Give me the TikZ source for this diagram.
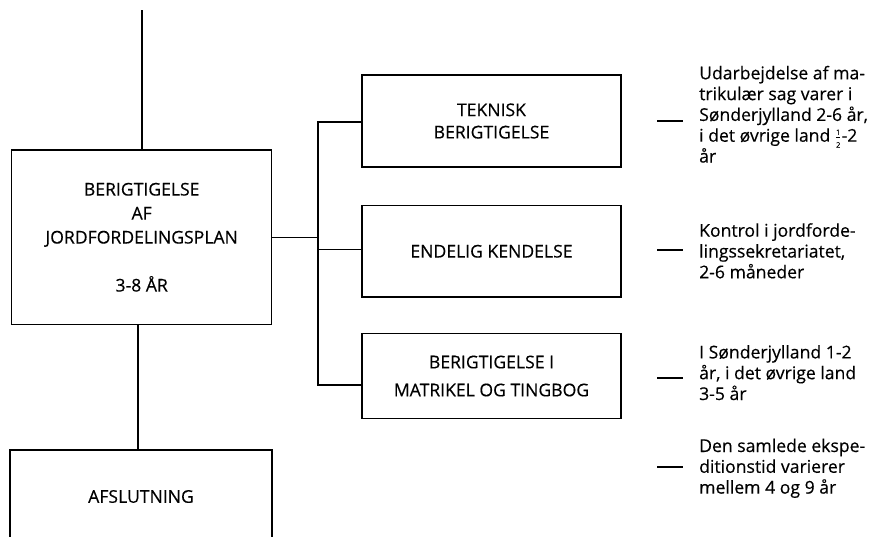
\documentclass[tikz,border=0pt]{standalone}
\usepackage{amsmath}
\usepackage{fontspec}
\setmainfont{Open Sans}[FakeBold=0.35]

% small stacked one-half used in the first note
\newcommand\halfstack{\smash{\ensuremath{\frac{\mbox{\fontsize{7.5}{7.5}\selectfont 1}}{\mbox{\fontsize{7.5}{7.5}\selectfont 2}}}}}

\tikzset{
  stage/.style={draw, line width=1.5pt, rectangle, inner sep=0pt, align=center,
                font=\fontsize{17.6}{23}\selectfont},
  note/.style={anchor=base west, align=left, inner sep=0pt,
               font=\fontsize{17.6}{20.8}\selectfont},
  link/.style={line width=1.5pt},
}

\begin{document}
\begin{tikzpicture}[x=1pt,y=-1pt]
\useasboundingbox (0,0) rectangle (892,536);
\clip (0,0) rectangle (892,536);

% main stages
\node[stage, minimum width=260, minimum height=174.5,
      font=\fontsize{17.6}{24}\selectfont] (plan) at (141.7,237.25)
  {BERIGTIGELSE\\AF\\JORDFORDELINGSPLAN\\[24pt]3-8 ÅR};
\node[stage, minimum width=262, minimum height=93] (afs) at (141,496.5)
  {AFSLUTNING};

% sub-stages
\node[stage, minimum width=259, minimum height=92,
      font=\fontsize{17.6}{22.3}\selectfont] (tek) at (491.5,121)
  {TEKNISK\\BERIGTIGELSE};
\node[stage, minimum width=259, minimum height=91.5] (kend) at (491.5,251.25)
  {ENDELIG KENDELSE};
\node[stage, minimum width=259, minimum height=85,
      font=\fontsize{17.6}{28}\selectfont] (mat) at (491.5,376)
  {BERIGTIGELSE I\\MATRIKEL OG TINGBOG};

% connectors
\coordinate (feed) at (142,10);
\coordinate (busTop) at (318,122);
\coordinate (busMid) at (318,249.5);
\coordinate (busBot) at (318,385);
\coordinate (drop) at (138,0);
\draw[link] (feed) -- (feed |- plan.north);
\draw[link] (plan.east) -- (plan.east -| busTop);
\draw[link] (tek.west |- busTop) -- (busTop) -- (busBot) -- (busBot -| mat.west);
\draw[link] (busMid) -- (busMid -| kend.west);
\draw[link] (drop |- plan.south) -- (drop |- afs.north);

% notes (placed by the baseline of their last line) with their lead dashes
\node[note] (n1) at (699,162.5)
  {Udarbejdelse af ma-\\trikulær sag varer i\\Sønderjylland 2-6 år,\\i det øvrige land \halfstack-2\\år};
\node[note] (n2) at (699,278.3)
  {Kontrol i jordforde-\\lingssekretariatet,\\2-6 måneder};
\node[note] (n3) at (699,400)
  {I Sønderjylland 1-2\\år, i det øvrige land\\3-5 år};
\node[note] (n4) at (699,493.6)
  {Den samlede ekspe-\\ditionstid varierer\\mellem 4 og 9 år};

\coordinate (d1a) at (657,121); \coordinate (d1b) at (683,121);
\coordinate (d2a) at (657,250); \coordinate (d2b) at (683,250);
\coordinate (d3a) at (657,378); \coordinate (d3b) at (683,378);
\coordinate (d4a) at (657,467); \coordinate (d4b) at (683,467);
\draw[link] (d1a) -- (d1b);
\draw[link] (d2a) -- (d2b);
\draw[link] (d3a) -- (d3b);
\draw[link] (d4a) -- (d4b);
\end{tikzpicture}
\end{document}
